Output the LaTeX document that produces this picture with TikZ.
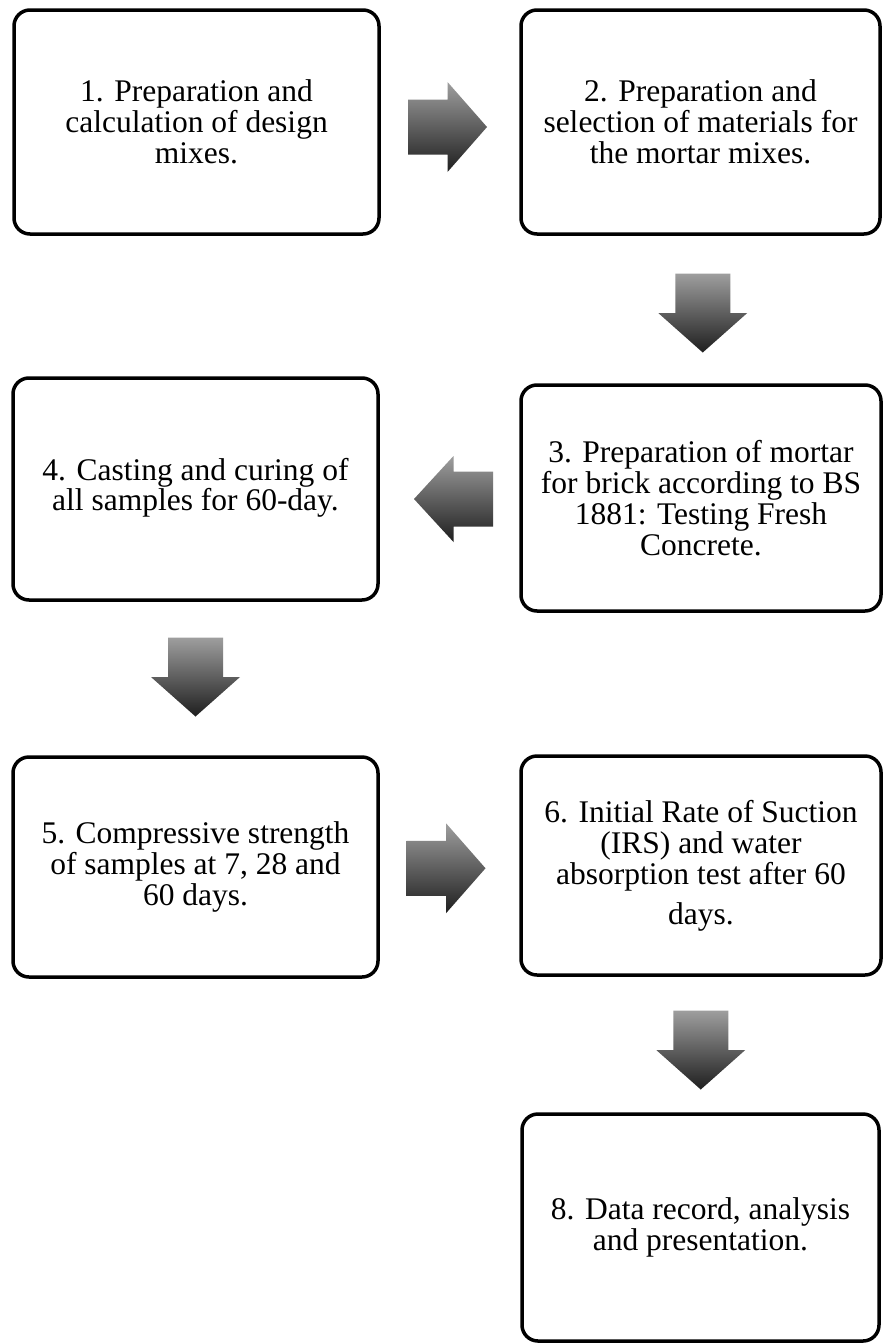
\documentclass[tikz,border=0pt]{standalone}
\usepackage{fontspec}
\setmainfont{Liberation Serif}
\usetikzlibrary{calc}
\begin{document}
\begin{tikzpicture}[x=1pt,y=-1pt,
  stepbox/.style={draw=black, line width=3.5pt, rounded corners=16pt, align=center,
    inner sep=0pt, font=\fontsize{31.5}{31}\selectfont, text=black},
  blockfill/.style={top color=black!38, bottom color=black!88, draw=none}]
\useasboundingbox (0,0) rectangle (883,1344);
\fill[white] (0,0) rectangle (883,1344);

\node[stepbox, minimum width=365pt, minimum height=224pt] (b1) at (196.5,122)
  {1. Preparation and\\calculation of design\\mixes.};
\node[stepbox, minimum width=359pt, minimum height=224pt] (b2) at (700.5,122)
  {2. Preparation and\\selection of materials for\\the mortar mixes.};
\node[stepbox, minimum width=360pt, minimum height=226pt] (b3) at (701,498)
  {3. Preparation of mortar\\for brick according to BS\\1881: Testing Fresh\\Concrete.};
\node[stepbox, minimum width=365pt, minimum height=222pt] (b4) at (195.5,489)
  {\raisebox{8pt}{\begin{tabular}{@{}c@{}}4. Casting and curing of\\[-2pt]all samples for 60-day.\end{tabular}}};
\node[stepbox, minimum width=365pt, minimum height=220pt] (b5) at (195.5,867)
  {5. Compressive strength\\of samples at 7, 28 and\\60 days.};
\node[stepbox, minimum width=360pt, minimum height=219pt] (b6) at (701,865.5)
  {6. Initial Rate of Suction\\(IRS) and water\\absorption test after 60\\[9pt]days.};
\node[stepbox, minimum width=357pt, minimum height=227pt] (b8) at (700.5,1227.5)
  {8. Data record, analysis\\and presentation.};

\coordinate (c12) at ($(b1.east)!0.5!(b2.west)+(-2.5,5)$);
\coordinate (c23) at ($(b2.south)!0.5!(b3.north)+(2,3.5)$);
\coordinate (c34) at ($(b4.east)!0.5!(b3.west)+(4,5.5)$);
\coordinate (c45) at ($(b4.south)!0.5!(b5.north)+(0,-1.5)$);
\coordinate (c56) at ($(b5.east)!0.5!(b6.west)+(-3.5,2)$);
\coordinate (c68) at ($(b6.south)!0.5!(b8.north)+(0,5.5)$);

% right-pointing block arrows
\foreach \c in {c12,c56}{
  \begin{scope}[shift={(\c)}]
    \shade[blockfill] (-39.5,-27.5) -- (0,-27.5) -- (0,-45) -- (39.5,0) -- (0,45)
      -- (0,27.5) -- (-39.5,27.5) -- cycle;
  \end{scope}
}
% left-pointing block arrow
\begin{scope}[shift={(c34)}]
  \shade[blockfill] (39.5,-27.5) -- (0,-27.5) -- (0,-43) -- (-39.5,0) -- (0,43)
    -- (0,27.5) -- (39.5,27.5) -- cycle;
\end{scope}
% down-pointing block arrows
\foreach \c in {c23,c45,c68}{
  \begin{scope}[shift={(\c)}]
    \shade[blockfill] (-27.5,-39.5) -- (27.5,-39.5) -- (27.5,0) -- (44.5,0) -- (0,39.5)
      -- (-44.5,0) -- (-27.5,0) -- cycle;
  \end{scope}
}
\end{tikzpicture}
\end{document}
